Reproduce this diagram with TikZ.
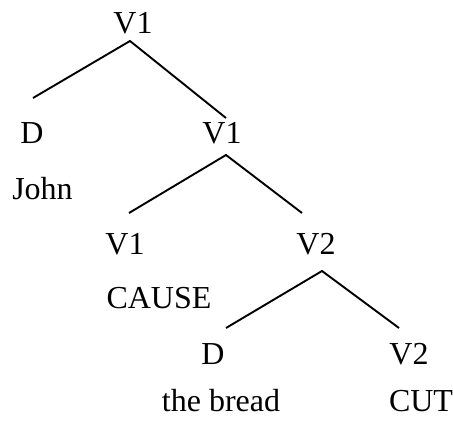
\documentclass[tikz,border=0pt]{standalone}
\usepackage{fontspec}
\setmainfont{Liberation Serif}

\begin{document}
\begin{tikzpicture}[
    x=1pt, y=-1pt,
    lbl/.style={anchor=base, inner sep=0pt, font=\fontsize{32}{38}\selectfont},
    branch/.style={line width=1.9pt}
]
\useasboundingbox (0,0) rectangle (453,426);

\node[lbl] (v1top) at (133,33) {V1};
\node[lbl] (d1)    at (32,143) {D};
\node[lbl] (v1mid) at (222,143) {V1};
\node[lbl] (john)  at (42.5,199) {John};

\node[lbl] (v1low) at (125,254) {V1};
\node[lbl] (v2mid) at (316,254) {V2};
\node[lbl] (cause) at (159,308) {CAUSE};

\node[lbl] (d2)    at (213,364) {D};
\node[lbl] (v2low) at (409,364) {V2};
\node[lbl] (bread) at (221,411) {the bread};
\node[lbl] (cut)   at (421,411) {CUT};

% branch ends
\coordinate (v1top-s) at (130,41);
\coordinate (d1-n)    at (33,98);
\coordinate (v1mid-n) at (226,118);

\coordinate (v1mid-s) at (226,155);
\coordinate (v1low-n) at (129,213);
\coordinate (v2mid-n) at (302,213);

\coordinate (v2mid-s) at (322,271);
\coordinate (d2-n)    at (226,328);
\coordinate (v2low-n) at (399,328);

\draw[branch] (d1-n) -- (v1top-s) -- (v1mid-n);
\draw[branch] (v1low-n) -- (v1mid-s) -- (v2mid-n);
\draw[branch] (d2-n) -- (v2mid-s) -- (v2low-n);

\end{tikzpicture}
\end{document}
